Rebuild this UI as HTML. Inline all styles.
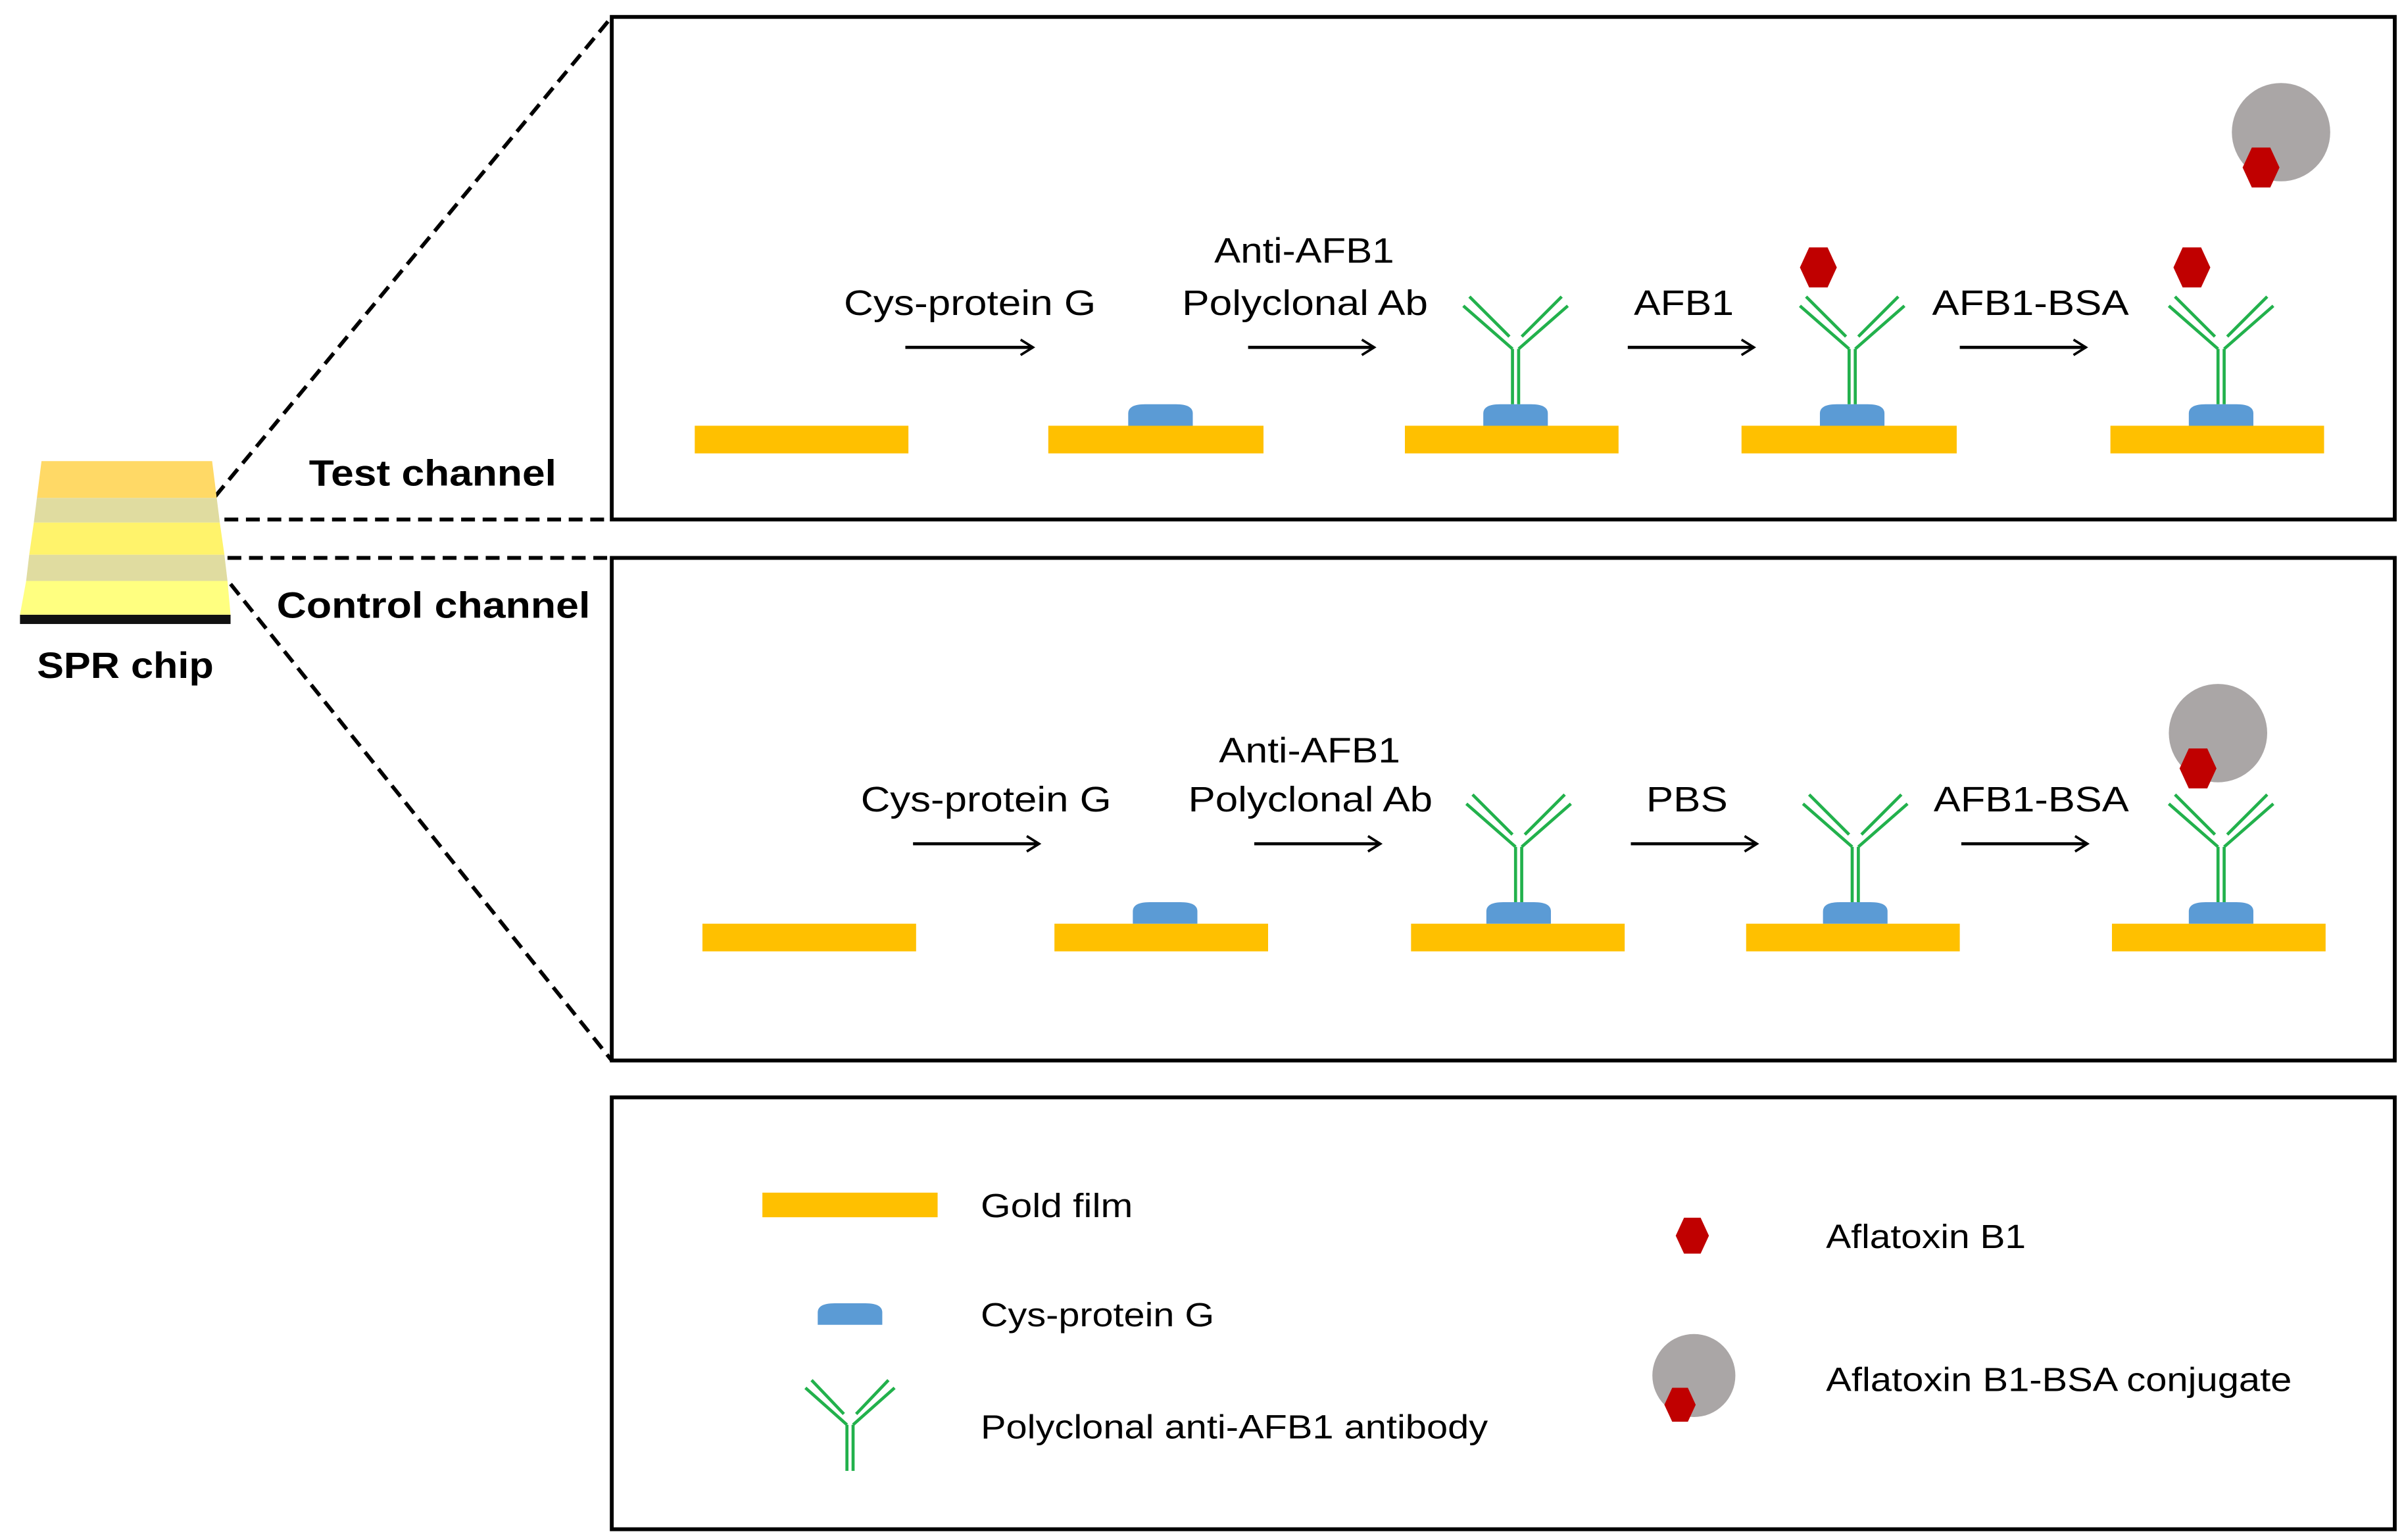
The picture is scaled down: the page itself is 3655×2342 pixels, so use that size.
<!DOCTYPE html>
<html><head><meta charset="utf-8"><style>html,body{margin:0;padding:0;background:#fff}svg{display:block}text{font-family:"Liberation Sans",sans-serif}</style></head>
<body>
<svg width="3655" height="2342" viewBox="0 0 1564 1002" preserveAspectRatio="none" xmlns="http://www.w3.org/2000/svg">
<defs>
<g id="ab" fill="none" stroke="#22b14c" stroke-width="2">
<line x1="-2" y1="0" x2="-2" y2="-36"/><line x1="2" y1="0" x2="2" y2="-36"/>
<line x1="-2" y1="-36" x2="-34" y2="-64"/><line x1="-4" y1="-44" x2="-30" y2="-70"/>
<line x1="2" y1="-36" x2="34" y2="-64"/><line x1="4" y1="-44" x2="30" y2="-70"/>
</g>
<path id="pg" d="M-21,0 V-8 Q-21,-14 -10,-14 H10 Q21,-14 21,-8 V0 Z" fill="#5b9bd5"/>
<polygon id="hx" points="-6,-13 6,-13 12,0 6,13 -6,13 -12,0" fill="#c00000"/>
<marker id="ar" markerWidth="12" markerHeight="12" refX="10" refY="6" orient="auto" markerUnits="userSpaceOnUse"><path d="M2,1 L10,6 L2,11" fill="none" stroke="#000" stroke-width="1.6"/></marker>
</defs>
<g fill="none" stroke="#000" stroke-width="2.5">
<rect x="398" y="11" width="1160" height="327"/>
<rect x="398" y="363" width="1160" height="327"/>
<rect x="398" y="714" width="1160" height="281"/>
</g>
<g stroke="#000" stroke-width="2.5" stroke-dasharray="9,5" fill="none">
<line x1="140" y1="323" x2="398" y2="11"/>
<line x1="146" y1="338" x2="398" y2="338"/>
<line x1="148" y1="363" x2="398" y2="363"/>
<line x1="150" y1="380" x2="398" y2="690"/>
</g>
<polygon points="27,300 138,300 141,324 24,324" fill="#ffd966"/>
<polygon points="24,324 141,324 143,340 22,340" fill="#e0dca0"/>
<polygon points="22,340 143,340 146,361 19,361" fill="#fff36b"/>
<polygon points="19,361 146,361 148,378 17,378" fill="#e0dca0"/>
<polygon points="17,378 148,378 150,400 13,400" fill="#ffff80"/>
<rect x="13" y="400" width="137" height="6" fill="#111"/>
<g font-weight="bold" font-size="24" lengthAdjust="spacingAndGlyphs">
<text x="201" y="316" textLength="161" lengthAdjust="spacingAndGlyphs">Test channel</text>
<text x="180" y="402" textLength="204" lengthAdjust="spacingAndGlyphs">Control channel</text>
<text x="24" y="441" textLength="115" lengthAdjust="spacingAndGlyphs">SPR chip</text>
</g>
<g fill="#ffc000">
<rect x="452" y="277" width="139" height="18"/><rect x="682" y="277" width="140" height="18"/><rect x="914" y="277" width="139" height="18"/><rect x="1133" y="277" width="140" height="18"/><rect x="1373" y="277" width="139" height="18"/>
<rect x="457" y="601" width="139" height="18"/><rect x="686" y="601" width="139" height="18"/><rect x="918" y="601" width="139" height="18"/><rect x="1136" y="601" width="139" height="18"/><rect x="1374" y="601" width="139" height="18"/>
<rect x="496" y="776" width="114" height="16"/>
</g>
<use href="#pg" x="755" y="277"/><use href="#pg" x="986" y="277"/><use href="#pg" x="1205" y="277"/><use href="#pg" x="1445" y="277"/>
<use href="#ab" x="986" y="263"/><use href="#ab" x="1205" y="263"/><use href="#ab" x="1445" y="263"/>
<use href="#hx" x="1183" y="174"/><use href="#hx" x="1426" y="174"/>
<circle cx="1484" cy="86" r="32" fill="#aaa6a6"/><use href="#hx" x="1471" y="109"/>
<use href="#pg" x="758" y="601"/><use href="#pg" x="988" y="601"/><use href="#pg" x="1207" y="601"/><use href="#pg" x="1445" y="601"/>
<use href="#ab" x="988" y="587"/><use href="#ab" x="1207" y="587"/><use href="#ab" x="1445" y="587"/>
<circle cx="1443" cy="477" r="32" fill="#aaa6a6"/><use href="#hx" x="1430" y="500"/>
<g stroke="#000" stroke-width="2" marker-end="url(#ar)">
<line x1="589" y1="226" x2="672" y2="226"/><line x1="812" y1="226" x2="894" y2="226"/><line x1="1059" y1="226" x2="1141" y2="226"/><line x1="1275" y1="226" x2="1357" y2="226"/>
<line x1="594" y1="549" x2="676" y2="549"/><line x1="816" y1="549" x2="898" y2="549"/><line x1="1061" y1="549" x2="1143" y2="549"/><line x1="1276" y1="549" x2="1358" y2="549"/>
</g>
<g font-size="23">
<text x="549" y="205" textLength="164" lengthAdjust="spacingAndGlyphs">Cys-protein G</text>
<text x="790" y="171" textLength="117" lengthAdjust="spacingAndGlyphs">Anti-AFB1</text>
<text x="769" y="205" textLength="160" lengthAdjust="spacingAndGlyphs">Polyclonal Ab</text>
<text x="1063" y="205" textLength="65" lengthAdjust="spacingAndGlyphs">AFB1</text>
<text x="1257" y="205" textLength="128" lengthAdjust="spacingAndGlyphs">AFB1-BSA</text>
<text x="560" y="528" textLength="163" lengthAdjust="spacingAndGlyphs">Cys-protein G</text>
<text x="793" y="496" textLength="118" lengthAdjust="spacingAndGlyphs">Anti-AFB1</text>
<text x="773" y="528" textLength="159" lengthAdjust="spacingAndGlyphs">Polyclonal Ab</text>
<text x="1071" y="528" textLength="53" lengthAdjust="spacingAndGlyphs">PBS</text>
<text x="1258" y="528" textLength="127" lengthAdjust="spacingAndGlyphs">AFB1-BSA</text>
</g>
<use href="#pg" x="553" y="862"/>
<g transform="translate(553 957)" fill="none" stroke="#22b14c" stroke-width="2">
<line x1="-2" y1="0" x2="-2" y2="-30"/><line x1="2" y1="0" x2="2" y2="-30"/>
<line x1="-2" y1="-30" x2="-29" y2="-54"/><line x1="-4" y1="-37" x2="-25" y2="-59"/>
<line x1="2" y1="-30" x2="29" y2="-54"/><line x1="4" y1="-37" x2="25" y2="-59"/>
</g>
<use href="#hx" x="1101" y="804" transform="translate(1101 804) scale(0.9) translate(-1101 -804)"/>
<circle cx="1102" cy="895" r="27" fill="#aaa6a6"/><use href="#hx" x="1093" y="914" transform="translate(1093 914) scale(0.85) translate(-1093 -914)"/>
<g font-size="22">
<text x="638" y="792" textLength="99" lengthAdjust="spacingAndGlyphs">Gold film</text>
<text x="638" y="863" textLength="152" lengthAdjust="spacingAndGlyphs">Cys-protein G</text>
<text x="638" y="936" textLength="330" lengthAdjust="spacingAndGlyphs">Polyclonal anti-AFB1 antibody</text>
<text x="1188" y="812" textLength="130" lengthAdjust="spacingAndGlyphs">Aflatoxin B1</text>
<text x="1188" y="905" textLength="303" lengthAdjust="spacingAndGlyphs">Aflatoxin B1-BSA conjugate</text>
</g>
</svg>
</body></html>
